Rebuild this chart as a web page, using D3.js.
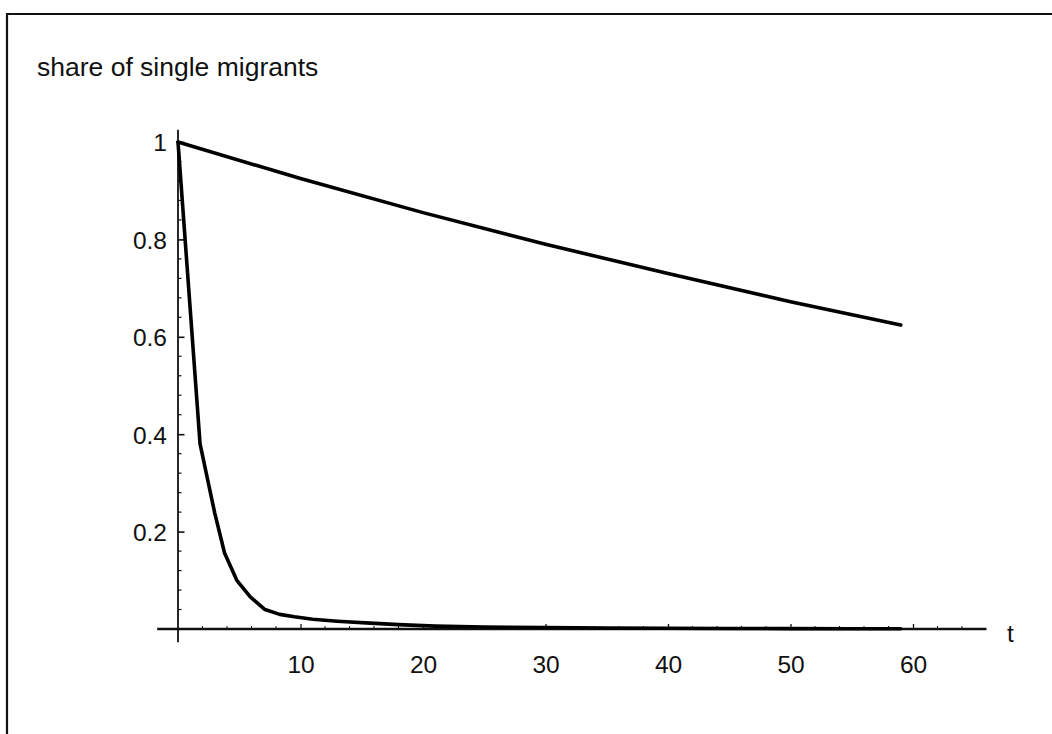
<!DOCTYPE html>
<html>
<head>
<meta charset="utf-8">
<script src="https://cdn.jsdelivr.net/npm/d3@7"></script>
<style>
  html, body { margin: 0; padding: 0; background: #fff; }
  svg { display: block; font-family: "Liberation Sans", Arial, sans-serif; }
  .tick text { font-size: 24.5px; fill: #111; }
</style>
</head>
<body>
<div id="chart"></div>
<script>
// ---- data ----
const yTitle = 'share of single migrants';
const xTitle = 't';

const xTicks = [10, 20, 30, 40, 50, 60];
const yTicks = [0.2, 0.4, 0.6, 0.8, 1];
const yTickLabels = ['0.2', '0.4', '0.6', '0.8', '1'];

// slow decline
const tUpper = [0, 10, 20, 30, 40, 50, 59];
const vUpper = [1, 0.925, 0.855, 0.79, 0.73, 0.672, 0.624];

// fast decline
const tLower = [0, 1.8, 3, 3.8, 4.8, 5.9, 7.1, 8.3, 9.5, 11, 13, 15.7, 18, 21, 25, 30, 35, 40, 45, 50, 55, 59];
const vLower = [1, 0.38, 0.238, 0.156, 0.10, 0.066, 0.040, 0.030, 0.025, 0.020, 0.016, 0.012, 0.009, 0.006, 0.004, 0.003, 0.002, 0.0015, 0.001, 0.0008, 0.0006, 0.0005];

// ---- layout ----
const W = 1052, H = 734;

const svg = d3.select('#chart').append('svg')
    .attr('width', W)
    .attr('height', H);

// frame (scan shows only the top and left edges inside the picture)
svg.append('path')
    .attr('d', `M7,${H} V14 H${W}`)
    .attr('fill', 'none')
    .attr('stroke', '#111')
    .attr('stroke-width', 2.2);

const x = d3.scaleLinear().domain([0, 60]).range([178, 913]);
const y = d3.scaleLinear().domain([0, 1]).range([629, 142]);

// --- axis lines (extend a little past the data like Mathematica does) ---
svg.append('line')
    .attr('x1', x(-1.7)).attr('x2', x(66))
    .attr('y1', y(0)).attr('y2', y(0))
    .attr('stroke', '#111').attr('stroke-width', 2.6);

svg.append('line')
    .attr('x1', x(0)).attr('x2', x(0))
    .attr('y1', y(-0.027)).attr('y2', y(1.025))
    .attr('stroke', '#111').attr('stroke-width', 1.8);

// --- minor ticks ---
const xMinor = d3.range(2, 66, 2).filter(d => d % 10 !== 0);
svg.append('g').selectAll('line')
    .data(xMinor)
    .enter().append('line')
    .attr('x1', d => x(d)).attr('x2', d => x(d))
    .attr('y1', y(0)).attr('y2', y(0) - 3)
    .attr('stroke', '#111').attr('stroke-width', 1);

const yMinor = d3.range(1, 26).map(i => i * 0.04).filter(d => Math.abs(d * 5 - Math.round(d * 5)) > 1e-6);
svg.append('g').selectAll('line')
    .data(yMinor)
    .enter().append('line')
    .attr('x1', x(0)).attr('x2', x(0) + 3.5)
    .attr('y1', d => y(d)).attr('y2', d => y(d))
    .attr('stroke', '#111').attr('stroke-width', 1.2);

// --- major ticks + labels via d3 axes (ticks point inward) ---
const xAxis = svg.append('g')
    .attr('transform', `translate(0,${y(0)})`)
    .call(d3.axisTop(x).tickValues(xTicks).tickSize(5).tickPadding(0));
xAxis.select('.domain').remove();
xAxis.selectAll('.tick line').attr('stroke', '#111').attr('stroke-width', 1.3);
xAxis.selectAll('.tick text')
    .attr('y', 44)
    .attr('dy', 0);

const yAxis = svg.append('g')
    .attr('transform', `translate(${x(0)},0)`)
    .call(d3.axisLeft(y).tickValues(yTicks).tickFormat((d, i) => yTickLabels[i]).tickSize(-6.5).tickPadding(11));
yAxis.select('.domain').remove();
yAxis.selectAll('.tick line').attr('stroke', '#111').attr('stroke-width', 1.6);
yAxis.selectAll('.tick text').attr('dy', '0.36em');

// --- curves ---
const line = d3.line()
    .x(d => x(d[0]))
    .y(d => y(d[1]));

svg.append('path')
    .datum(tUpper.map((t, i) => [t, vUpper[i]]))
    .attr('fill', 'none')
    .attr('stroke', '#000')
    .attr('stroke-width', 3.6)
    .attr('stroke-linejoin', 'round')
    .attr('stroke-linecap', 'round')
    .attr('d', line);

svg.append('path')
    .datum(tLower.map((t, i) => [t, vLower[i]]))
    .attr('fill', 'none')
    .attr('stroke', '#000')
    .attr('stroke-width', 3.6)
    .attr('stroke-linejoin', 'round')
    .attr('stroke-linecap', 'round')
    .attr('d', line);

// --- axis titles ---
svg.append('text')
    .attr('x', 37)
    .attr('y', 76)
    .attr('font-size', '26.5px')
    .attr('fill', '#111')
    .text(yTitle);

svg.append('text')
    .attr('x', x(66) + 24)
    .attr('y', y(0) + 13)
    .attr('font-size', '24.5px')
    .attr('text-anchor', 'middle')
    .attr('fill', '#111')
    .text(xTitle);
</script>
</body>
</html>
